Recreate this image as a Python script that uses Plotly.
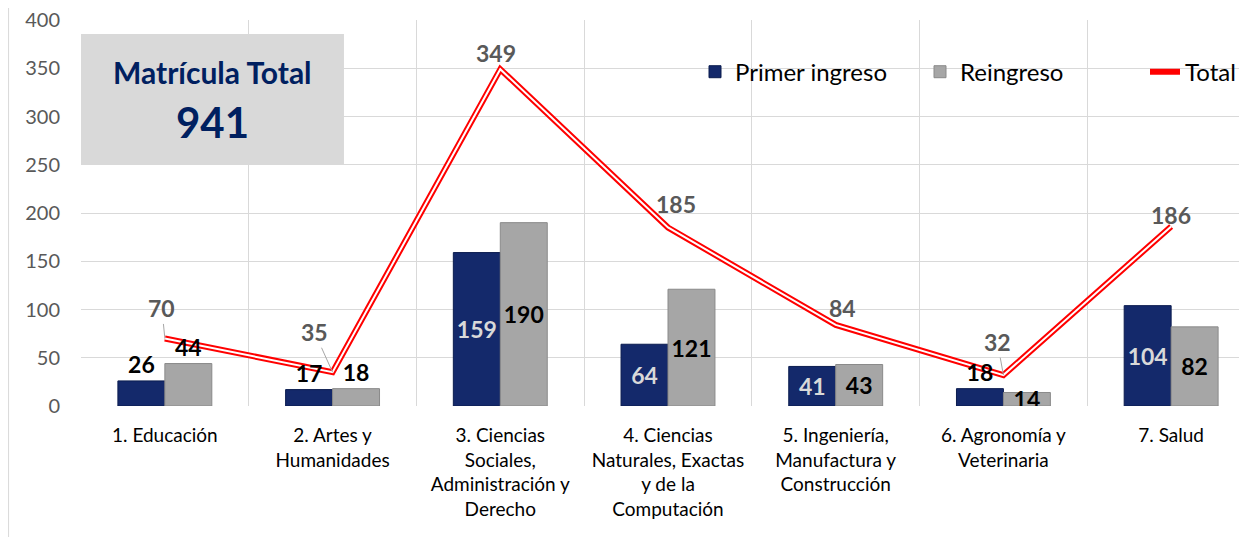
import plotly.graph_objects as go

# Data
categories = [
    "1. Educación",
    "2. Artes y Humanidades",
    "3. Ciencias Sociales, Administración y Derecho",
    "4. Ciencias Naturales, Exactas y de la Computación",
    "5. Ingeniería, Manufactura y Construcción",
    "6. Agronomía y Veterinaria",
    "7. Salud",
]
tick_labels = [
    "1. Educación",
    "2. Artes y<br>Humanidades",
    "3. Ciencias<br>Sociales,<br>Administración y<br>Derecho",
    "4. Ciencias<br>Naturales, Exactas<br>y de la<br>Computación",
    "5. Ingeniería,<br>Manufactura y<br>Construcción",
    "6. Agronomía y<br>Veterinaria",
    "7. Salud",
]
primer_ingreso = [26, 17, 159, 64, 41, 18, 104]
reingreso = [44, 18, 190, 121, 43, 14, 82]
total = [70, 35, 349, 185, 84, 32, 186]
matricula_total = 941

FONT = "Lato"
NAVY = "#14296b"
GREY = "#a6a6a6"
RED = "#ff0000"

# label placement styles
primer_pos = ["outside", "outside", "inside", "inside", "inside", "outside", "inside"]
primer_col = ["black", "black", "#d9d9d9", "#d9d9d9", "#d9d9d9", "black", "#d9d9d9"]
reingreso_pos = ["outside", "outside", "inside", "inside", "inside", "inside", "inside"]
total_offsets = [(-3, -30), (-18, -40), (-4, -16), (8, -23), (7, -17), (-6, -33), (0, -12)]
total_leader = [True, True, False, False, False, True, False]

fig = go.Figure()

fig.add_trace(
    go.Bar(
        x=categories,
        y=primer_ingreso,
        name="Primer ingreso",
        marker=dict(color=NAVY, line=dict(color="#0b1c4f", width=1)),
        text=primer_ingreso,
        textposition=primer_pos,
        textangle=0,
        insidetextanchor="middle",
        constraintext="none",
        textfont=dict(family=FONT, size=23, color=primer_col, weight="bold"),
        cliponaxis=False,
        zorder=1,
    )
)
fig.add_trace(
    go.Bar(
        x=categories,
        y=reingreso,
        name="Reingreso",
        marker=dict(color=GREY, line=dict(color="#8a8a8a", width=1)),
        text=reingreso,
        textposition=reingreso_pos,
        textangle=0,
        insidetextanchor="middle",
        constraintext="none",
        textfont=dict(family=FONT, size=23, color="black", weight="bold"),
        cliponaxis=False,
        zorder=1,
    )
)
# double red line: thick red with thin white core
fig.add_trace(
    go.Scatter(
        x=categories,
        y=total,
        name="Total",
        mode="lines",
        line=dict(color=RED, width=6),
        cliponaxis=False,
        zorder=0,
    )
)
fig.add_trace(
    go.Scatter(
        x=categories,
        y=total,
        mode="lines",
        line=dict(color="white", width=2),
        showlegend=False,
        hoverinfo="skip",
        cliponaxis=False,
        zorder=0,
    )
)

# total labels
for cat, val, (ax, ay), leader in zip(categories, total, total_offsets, total_leader):
    fig.add_annotation(
        x=cat,
        y=val,
        text=str(val),
        showarrow=True,
        arrowhead=0,
        arrowwidth=1,
        arrowcolor="#a6a6a6" if leader else "rgba(0,0,0,0)",
        ax=ax,
        ay=ay,
        font=dict(family=FONT, size=23, color="#595959", weight="bold"),
    )

# "Matrícula Total" box
fig.add_shape(
    type="rect",
    xref="paper",
    yref="paper",
    x0=0,
    x1=0.224,
    y0=0.627,
    y1=0.9637,
    fillcolor="#d9d9d9",
    line=dict(width=0),
    layer="above",
)
fig.add_annotation(
    xref="paper",
    yref="paper",
    x=0.112,
    y=0.865,
    xanchor="center",
    yanchor="middle",
    text="Matrícula Total",
    showarrow=False,
    font=dict(family=FONT, size=30, color="#002060", weight="bold"),
)
fig.add_annotation(
    xref="paper",
    yref="paper",
    x=0.112,
    y=0.735,
    xanchor="center",
    yanchor="middle",
    text=str(matricula_total),
    showarrow=False,
    font=dict(family=FONT, size=42, color="#002060", weight="bold"),
)

# left chart border
fig.add_shape(
    type="line",
    xref="paper",
    yref="paper",
    x0=-0.0617,
    x1=-0.0617,
    y0=-0.4,
    y1=1.04,
    line=dict(color="#d9d9d9", width=1),
)

# the page body has an 8px margin, so margins are 8px smaller than the target layout
fig.update_layout(
    width=1247,
    height=537,
    margin=dict(l=73, r=0, t=12, b=139, autoexpand=False),
    paper_bgcolor="white",
    plot_bgcolor="white",
    barmode="group",
    bargap=0.44,
    bargroupgap=0,
    font=dict(family=FONT, color="#000000"),
    showlegend=True,
    legend=dict(
        orientation="h",
        x=0.523,
        xanchor="left",
        y=0.865,
        yanchor="middle",
        entrywidth=180,
        bgcolor="rgba(0,0,0,0)",
        font=dict(family=FONT, size=24, color="black"),
    ),
)
fig.update_xaxes(
    tickvals=categories,
    ticktext=tick_labels,
    tickson="boundaries",
    range=[-0.5, 6.5],
    showgrid=True,
    gridcolor="#d9d9d9",
    showline=True,
    linecolor="#d9d9d9",
    ticks="",
    tickangle=0,
    automargin=False,
    ticklabeloverflow="allow",
    ticklabelstandoff=12,
    tickfont=dict(family=FONT, size=19, color="#000000"),
)
fig.update_yaxes(
    range=[0, 400],
    dtick=50,
    showgrid=True,
    gridcolor="#d9d9d9",
    zeroline=False,
    ticks="",
    automargin=False,
    ticklabeloverflow="allow",
    ticklabelstandoff=20,
    tickfont=dict(family=FONT, size=20, color="#595959"),
)

fig.write_html("out.html")
